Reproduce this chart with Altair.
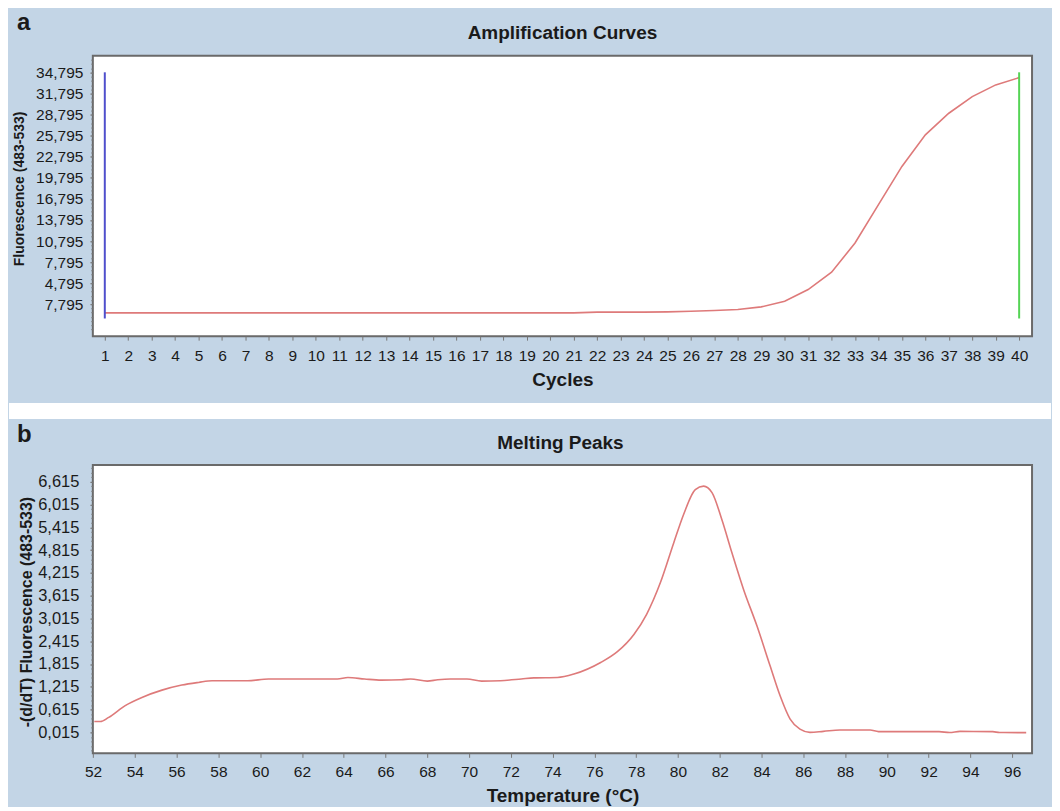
import altair as alt
import pandas as pd

# ---------------- Panel a: amplification curve ----------------
cycles = list(range(1, 41))
fluorescence = [560, 560, 560, 560, 560, 560, 560, 560, 560, 560,
                560, 560, 560, 560, 560, 560, 560, 560, 560, 560,
                560, 660, 660, 660, 700, 800, 900, 1040, 1410, 2220,
                3885, 6345, 10515, 15970, 21420, 25925, 29000, 31370, 33035, 34075]
marker_cycles = [1, 40]
marker_low = [-240, -240]
marker_high = [34830, 34830]
marker_colors = ["#4f4fcc", "#55d455"]
y_a_ticks = [1795, 4795, 7795, 10795, 13795, 16795, 19795, 22795, 25795, 28795, 31795, 34795]
y_a_labels = ["7,795", "4,795", "7,795", "10,795", "13,795", "16,795", "19,795",
              "22,795", "25,795", "28,795", "31,795", "34,795"]
title_a = "Amplification Curves"

# ---------------- Panel b: melting peak ----------------
temps = [52.06, 52.35, 52.75, 53.54, 54.34, 55.3, 56.25, 57.05, 57.7, 59.4, 60.4, 63.7,
         64.2, 65.0, 65.8, 66.75, 67.2, 68.0, 68.5, 69.1, 69.9, 70.6, 71.5, 72.5, 73.1,
         74.23, 75.02, 76.3, 77.1, 77.9, 78.5, 79.16, 79.8, 80.27, 80.83, 81.23, 81.63,
         82.1, 82.58, 83.14, 83.78, 84.41, 84.89, 85.37, 85.84, 86.32, 86.96, 87.75,
         89.2, 89.6, 92.5, 93.0, 93.5, 95.07, 95.4, 96.67]
deriv = [0.30, 0.30, 0.41, 0.72, 0.935, 1.127, 1.26, 1.33, 1.375, 1.375, 1.42, 1.42,
         1.46, 1.42, 1.39, 1.40, 1.42, 1.365, 1.40, 1.42, 1.42, 1.365, 1.375, 1.42, 1.45,
         1.46, 1.55, 1.855, 2.14, 2.60, 3.125, 3.96, 5.01, 5.755, 6.41, 6.50, 6.33,
         5.62, 4.75, 3.78, 2.82, 1.77, 0.98, 0.365, 0.10, 0.015, 0.04, 0.075,
         0.075, 0.035, 0.033, 0.010, 0.04, 0.033, 0.010, 0.008]
y_b_ticks = [0.015, 0.615, 1.215, 1.815, 2.415, 3.015, 3.615, 4.215, 4.815, 5.415, 6.015, 6.615]
y_b_labels = ["0,015", "0,615", "1,215", "1,815", "2,415", "3,015", "3,615",
              "4,215", "4,815", "5,415", "6,015", "6,615"]
x_b_ticks = list(range(52, 97, 2))
title_b = "Melting Peaks"

# ---------------- styling ----------------
BG = "#c3d5e6"
RED = "#de7a7a"
FONT = "Liberation Sans"
INK = "#1a1a1a"

W_A, H_A = 941, 281
W_B, H_B = 941, 289


def label_expr(ticks, labels):
    step = ticks[1] - ticks[0]
    arr = "[" + ",".join("'" + s + "'" for s in labels) + "]"
    return arr + "[round((datum.value - " + str(ticks[0]) + ") / " + str(step) + ")]"


def text_layer(txt, size, x, y, align):
    return alt.Chart(pd.DataFrame({"t": [txt]})).mark_text(
        font=FONT, fontSize=size, fontWeight="bold", align=align,
        baseline="alphabetic", color=INK
    ).encode(text="t:N", x=alt.value(x), y=alt.value(y))


def minor_layer(df, field, values):
    return alt.Chart(df).mark_point(opacity=0).encode(
        y=alt.Y(field, axis=alt.Axis(orient="left", values=values, labels=False,
                                     title=None, tickSize=2, grid=False, domain=False)))


minor_a = [y_a_ticks[0] + 600 * k for k in range(-6, 59)]
minor_b = [round(y_b_ticks[0] + 0.12 * k, 3) for k in range(-4, 59)]

# ---------------- panel a ----------------
df_a = pd.DataFrame({"cycle": cycles, "fluor": fluorescence})
df_m = pd.DataFrame({"cycle": marker_cycles, "low": marker_low,
                     "high": marker_high, "color": marker_colors})

xa_scale = alt.Scale(domain=[0.49, 40.55], nice=False, zero=False)
ya_scale = alt.Scale(domain=[-2755, 37200], nice=False, zero=False)

axis_xa = alt.Axis(values=cycles, format="d", title="Cycles",
                   titleFontSize=19, titleFontWeight="bold", titleY=49,
                   titleBaseline="alphabetic", labelFontSize=15.5,
                   tickSize=4, labelPadding=8, labelOverlap=False,
                   labelFlush=False)
axis_ya = alt.Axis(orient="left", values=y_a_ticks,
                   labelExpr=label_expr(y_a_ticks, y_a_labels),
                   title="Fluorescence (483-533)", titleFontSize=14,
                   titleFontWeight="bold", titleX=-69, titleY=133,
                   titleBaseline="alphabetic", titleAngle=270,
                   labelFontSize=15.5, tickSize=3, labelPadding=7,
                   labelOverlap=False, labelFlush=False)

curve_a = alt.Chart(df_a).mark_line(color=RED, strokeWidth=1.6).encode(
    x=alt.X("cycle:Q", scale=xa_scale, axis=axis_xa),
    y=alt.Y("fluor:Q", scale=ya_scale, axis=axis_ya))
rules_a = alt.Chart(df_m).mark_rule(strokeWidth=2).encode(
    x=alt.X("cycle:Q", scale=xa_scale, axis=axis_xa),
    y=alt.Y("low:Q", scale=ya_scale, axis=axis_ya),
    y2="high:Q",
    color=alt.Color("color:N", scale=None),
)
gap = alt.Chart(pd.DataFrame({"g": [0]})).mark_rect(color="white").encode(
    x=alt.value(-84), x2=alt.value(W_A + 19),
    y=alt.value(H_A + 67), y2=alt.value(H_A + 83))
pin_a = alt.Chart(pd.DataFrame({"g": [0]})).mark_rect(opacity=0).encode(
    x=alt.value(0), x2=alt.value(1), y=alt.value(-46), y2=alt.value(-46))

main_a = alt.layer(
    curve_a, rules_a,
    text_layer("a", 24, -76, -26, "left"),
    text_layer(title_a, 19, W_A / 2, -17, "center"),
    gap, pin_a,
)
panel_a = alt.layer(main_a, minor_layer(df_a, "fluor:Q", minor_a)).resolve_axis(
    y="independent").properties(width=W_A, height=H_A)

# ---------------- panel b ----------------
df_b = pd.DataFrame({"temp": temps, "deriv": deriv})
xb_scale = alt.Scale(domain=[51.99, 96.95], nice=False, zero=False)
yb_scale = alt.Scale(domain=[-0.538, 7.06], nice=False, zero=False)

xb = alt.X("temp:Q", scale=xb_scale,
           axis=alt.Axis(values=x_b_ticks, format="d", title="Temperature (°C)",
                         titleFontSize=19, titleFontWeight="bold", titleY=48,
                         titleBaseline="alphabetic", labelFontSize=15.5,
                         tickSize=4, labelPadding=7, labelOverlap=False,
                         labelFlush=False))
yb = alt.Y("deriv:Q", scale=yb_scale,
           axis=alt.Axis(orient="left", values=y_b_ticks,
                         labelExpr=label_expr(y_b_ticks, y_b_labels),
                         title="-(d/dT) Fluorescence (483-533)", titleFontSize=16,
                         titleFontWeight="bold", titleX=-61.5, titleY=147,
                         titleBaseline="alphabetic", titleAngle=270,
                         labelFontSize=16.5, tickSize=3, labelPadding=11,
                         labelOverlap=False, labelFlush=False))

curve_b = alt.Chart(df_b).mark_line(color=RED, strokeWidth=1.6,
                                    interpolate="monotone").encode(x=xb, y=yb)
pin_b = alt.Chart(pd.DataFrame({"g": [0]})).mark_rect(opacity=0).encode(
    x=alt.value(-84), x2=alt.value(W_B + 19), y=alt.value(-44), y2=alt.value(-44))

main_b = alt.layer(
    curve_b,
    text_layer("b", 24, -76, -23, "left"),
    text_layer(title_b, 19, W_B / 2 - 2, -16, "center"),
    pin_b,
)
panel_b = alt.layer(main_b, minor_layer(df_b, "deriv:Q", minor_b)).resolve_axis(
    y="independent").properties(width=W_B, height=H_B)

chart = alt.vconcat(panel_a, panel_b, spacing=0).properties(
    background=BG, padding=0
).configure_view(
    fill="white", stroke="#6a6a6a", strokeWidth=2
).configure_axis(
    labelFont=FONT, titleFont=FONT, labelColor=INK, titleColor=INK,
    tickColor="#777777", domain=False, grid=False, labelOverlap=False
)

chart.save("out.html", embed_options={"renderer": "svg", "actions": False})
